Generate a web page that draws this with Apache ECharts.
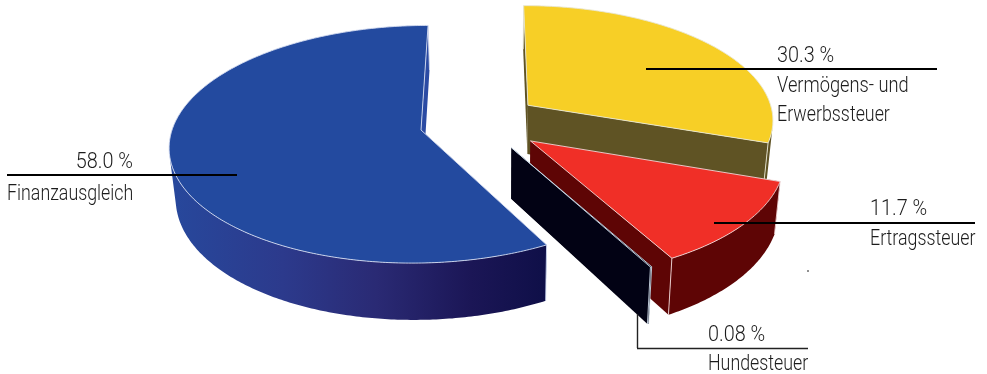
<!DOCTYPE html>
<html>
<head>
<meta charset="utf-8">
<script src="https://cdn.jsdelivr.net/npm/echarts@6/dist/echarts.min.js"></script>
<style>html,body{margin:0;padding:0;background:#fff}#chart{width:987px;height:374px}</style>
</head>
<body>
<div id="chart"></div>
<script>
// Steuereinnahmen by source, listed clockwise from the top of the pie
const categories = ['Vermögens- und Erwerbssteuer', 'Ertragssteuer', 'Hundesteuer', 'Finanzausgleich'];
const shares = [30.3, 11.7, 0.08, 58.0];
const shareLabels = ['30.3 %', '11.7 %', '0.08 %', '58.0 %'];

// Per-slice appearance
const topColors = ['#f7cf26', '#f02f27', '#020214', '#234a9f'];
const sideColors = ['#5f5324', '#5e0505', '#020214', '#2b4ba3'];
const edgeColors = ['#e8e6d4', '#f0d8d8', '#cfdbe8', '#d5dcf0'];
// How far each slice is pulled out of the pie, on the ground plane
const explode = [[108, 54], [109, -23], [90, -37], [0, 0]];

// Perspective camera for the tilted disc
const cam = { cx: 487, horizon: -846, plane: 130, radius: 249, dist: 2075, depth: 50, vx: 500, shrink: 0.02, ox: -66 };

function projectTop(wx, wz) {
  const p = cam.dist / (cam.dist + wz);
  return [cam.cx + wx * p, cam.horizon + (cam.plane - cam.horizon) * p, p];
}
function dropToBase(pt) {
  return [cam.vx + (pt[0] - cam.vx) * (1 - cam.shrink), pt[1] + cam.depth * pt[2]];
}

const total = shares.reduce((a, b) => a + b, 0);
const starts = [];
shares.reduce((angle, v, i) => { starts[i] = angle; return angle - v / total * 360; }, 90);

function renderSlice(params, api) {
  const i = params.dataIndex;
  const a0 = starts[i];
  const a1 = a0 - api.value(0) / total * 360;
  const ox = cam.ox + explode[i][0], oz = explode[i][1];
  const steps = Math.max(2, Math.ceil(Math.abs(a1 - a0) * 1.5));
  const rim = [];
  for (let k = 0; k <= steps; k++) {
    const t = (a0 + (a1 - a0) * k / steps) * Math.PI / 180;
    rim.push(projectTop(ox + cam.radius * Math.cos(t), oz + cam.radius * Math.sin(t)));
  }
  const apex = projectTop(ox, oz);
  const base = rim.map(dropToBase);
  const apexBase = dropToBase(apex);
  const flat = p => [p[0], p[1]];
  const first = rim[0], last = rim[rim.length - 1];
  const baseFirst = base[0], baseLast = base[base.length - 1];

  // The Finanzausgleich wall darkens towards the cut
  const wallFill = i === 3
    ? new echarts.graphic.LinearGradient(170, 0, 546, 0, [
        { offset: 0, color: '#27489c' },
        { offset: 0.3, color: '#2c3a8c' },
        { offset: 0.55, color: '#2a2a74' },
        { offset: 0.8, color: '#1b1656' },
        { offset: 1, color: '#0f0f48' }
      ], true)
    : sideColors[i];

  const poly = (points, fill, stroke) => ({
    type: 'polygon',
    silent: true,
    shape: { points: points },
    style: { fill: fill, stroke: stroke || null, lineWidth: stroke ? 0.9 : 0 }
  });
  const edge = (a, b) => ({
    type: 'line',
    silent: true,
    shape: { x1: a[0], y1: a[1], x2: b[0], y2: b[1] },
    style: { stroke: edgeColors[i], lineWidth: 0.9 }
  });

  // Only the part of the outer wall that faces the viewer is filled
  let from = -1, to = -1;
  for (let k = 0; k < steps; k++) {
    const dx = rim[k + 1][0] - rim[k][0], dy = rim[k + 1][1] - rim[k][1];
    const ex = base[k][0] - rim[k][0], ey = base[k][1] - rim[k][1];
    if (dx * ey - dy * ex < 0) {
      if (from < 0) from = k;
      to = k + 1;
    }
  }
  const wall = from < 0 ? [] : [poly(
    rim.slice(from, to + 1).map(flat).concat(base.slice(from, to + 1).reverse()),
    wallFill
  )];

  return {
    type: 'group',
    children: [
      poly([flat(apex), flat(first), baseFirst, apexBase], sideColors[i])
    ].concat(wall, [
      poly([flat(apex), flat(last), baseLast, apexBase], sideColors[i]),
      edge(flat(first), baseFirst),
      edge(flat(last), baseLast),
      poly([flat(apex)].concat(rim.map(flat)), topColors[i], edgeColors[i])
    ])
  };
}

const ink = '#1c1c1c';
const labelFont = '300 22px Roboto, "Liberation Sans", sans-serif';
const squeezeName = 0.81;
const squeezeShare = 0.9;
const text = (x, y, content, align, squeeze) => ({
  type: 'text', x: x, y: y, z: 10, silent: true, scaleX: squeeze || squeezeName,
  style: { text: content, font: labelFont, fill: ink, textAlign: align || 'left', textVerticalAlign: 'middle' }
});
const rule = (x1, y1, x2, y2, color, width) => ({
  type: 'line', z: 9, silent: true,
  shape: { x1: x1, y1: y1, x2: x2, y2: y2 },
  style: { stroke: color, lineWidth: width }
});

const chart = echarts.init(document.getElementById('chart'), null, { renderer: 'canvas' });
chart.setOption({
  animation: false,
  backgroundColor: '#ffffff',
  series: [{
    type: 'custom',
    coordinateSystem: 'none',
    renderItem: renderSlice,
    data: shares.map((v, i) => ({ name: categories[i], value: [v] })),
    silent: true
  }],
  graphic: [
    rule(7, 175, 237, 175, '#000', 2),
    rule(646, 69, 937, 69, '#000', 2),
    rule(714, 223, 975, 223, '#000', 2),
    rule(637.5, 314, 637.5, 348, '#222', 1.4),
    rule(637, 348.5, 808, 348.5, '#222', 1.4),
    rule(807, 271, 809, 271, '#222', 1),
    text(133, 162, shareLabels[3], 'right', squeezeShare),
    text(7, 194, categories[3]),
    text(777, 56, shareLabels[0], 'left', squeezeShare),
    text(777, 86, 'Vermögens- und', 'left', 0.83),
    text(777, 115, 'Erwerbssteuer'),
    text(870, 209, shareLabels[1], 'left', squeezeShare),
    text(870, 239, categories[1]),
    text(708, 335, shareLabels[2], 'left', squeezeShare),
    text(708, 364, categories[2])
  ]
});
</script>
</body>
</html>
